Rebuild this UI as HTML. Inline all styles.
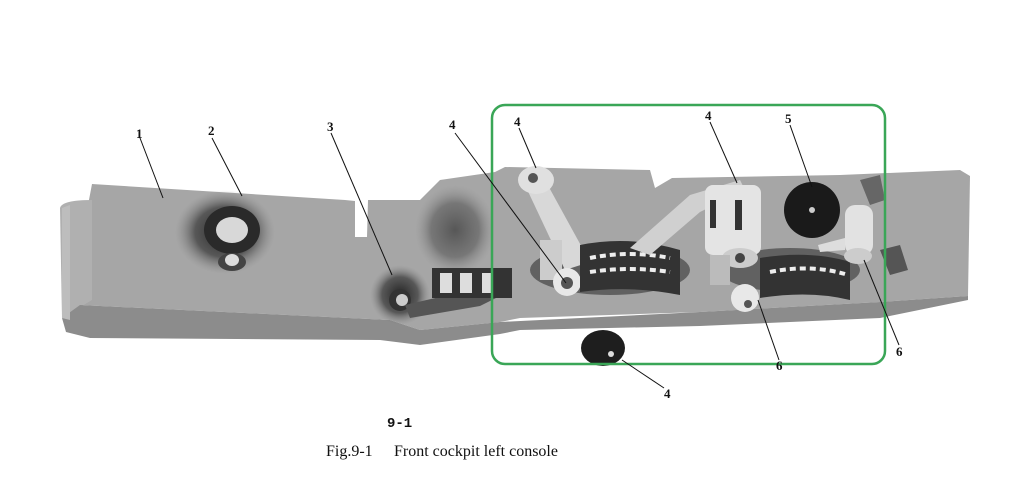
<!DOCTYPE html>
<html><head><meta charset="utf-8"><style>
html,body{margin:0;padding:0;background:#fff;}
svg{display:block}
</style></head><body>
<svg width="1013" height="496" viewBox="0 0 1013 496" xmlns="http://www.w3.org/2000/svg">
<defs>
<radialGradient id="dk" cx="50%" cy="50%" r="50%"><stop offset="0" stop-color="#222"/><stop offset="0.6" stop-color="#444" stop-opacity="0.8"/><stop offset="1" stop-color="#888" stop-opacity="0"/></radialGradient>
</defs>
<!-- main plate -->
<polygon fill="#a6a6a6" points="92,184 345,200 355,201 355,237 367,237 368,200 420,200 440,180 495,172 505,167 650,170 655,188 672,178 840,175 960,170 970,176 968,296 880,302 700,312 520,318 500,322 420,330 390,320 80,305 70,300"/>
<!-- left rounded end -->
<path d="M60,208 Q62,200 92,200 L92,300 L62,318 Z" fill="#b0b0b0"/>
<!-- front face -->
<polygon fill="#8c8c8c" points="62,318 80,305 390,320 420,330 500,322 700,312 880,302 968,296 968,300 880,318 700,326 520,330 500,334 420,345 380,340 90,338 66,332"/>
<polygon fill="#bdbdbd" points="62,208 70,205 70,320 62,318"/>
<!-- dark shading zones -->
<ellipse cx="225" cy="232" rx="50" ry="42" fill="url(#dk)"/>
<ellipse cx="400" cy="295" rx="30" ry="30" fill="url(#dk)"/>
<ellipse cx="455" cy="230" rx="40" ry="45" fill="url(#dk)" opacity="0.6"/>
<ellipse cx="610" cy="270" rx="80" ry="25" fill="#444" opacity="0.7"/>
<ellipse cx="790" cy="270" rx="70" ry="22" fill="#444" opacity="0.7"/>
<!-- knob 2 -->
<ellipse cx="232" cy="230" rx="28" ry="24" fill="#2a2a2a"/>
<ellipse cx="232" cy="230" rx="16" ry="13" fill="#d8d8d8"/>
<ellipse cx="232" cy="262" rx="14" ry="9" fill="#444"/>
<ellipse cx="232" cy="260" rx="7" ry="6" fill="#ddd"/>
<!-- knob 3 and slider -->
<circle cx="400" cy="300" r="11" fill="#333"/><circle cx="402" cy="300" r="6" fill="#ccc"/>
<polygon points="405,305 470,290 500,296 480,306 410,318" fill="#555"/>
<rect x="432" y="268" width="80" height="30" fill="#333"/>
<rect x="440" y="273" width="12" height="20" fill="#ddd"/><rect x="460" y="273" width="12" height="20" fill="#ddd"/><rect x="482" y="273" width="10" height="20" fill="#ddd"/>
<!-- lever 1 -->
<polygon points="525,185 545,180 590,262 565,270" fill="#d8d8d8"/>
<ellipse cx="536" cy="180" rx="18" ry="14" fill="#e0e0e0"/><circle cx="533" cy="178" r="5" fill="#555"/>
<rect x="540" y="240" width="22" height="40" fill="#ccc"/>
<circle cx="567" cy="282" r="14" fill="#e8e8e8"/><circle cx="567" cy="283" r="6" fill="#555"/>
<path d="M580,245 Q630,235 680,250 L680,295 Q630,285 580,292 Z" fill="#333"/>
<path d="M590,258 Q630,250 670,258" stroke="#eee" stroke-width="4" stroke-dasharray="6,4" fill="none"/>
<path d="M590,272 Q630,266 670,272" stroke="#eee" stroke-width="4" stroke-dasharray="6,4" fill="none"/>
<polygon points="630,248 690,195 740,180 745,190 700,212 650,255" fill="#d0d0d0"/>
<!-- throttle block -->
<rect x="705" y="185" width="56" height="70" rx="8" fill="#e4e4e4"/>
<rect x="710" y="200" width="6" height="28" fill="#333"/><rect x="735" y="200" width="7" height="30" fill="#333"/>
<ellipse cx="740" cy="258" rx="18" ry="10" fill="#ccc"/><circle cx="740" cy="258" r="5" fill="#444"/>
<rect x="710" y="255" width="20" height="30" fill="#bbb"/>
<circle cx="745" cy="298" r="14" fill="#e8e8e8"/><circle cx="748" cy="304" r="4" fill="#555"/>
<path d="M760,258 Q810,250 850,262 L850,300 Q810,290 760,298 Z" fill="#333"/>
<path d="M770,272 Q810,264 845,274" stroke="#eee" stroke-width="4" stroke-dasharray="6,4" fill="none"/>
<!-- gauge 5 -->
<circle cx="812" cy="210" r="28" fill="#1a1a1a"/>
<circle cx="812" cy="210" r="3" fill="#ccc"/>
<!-- item 6 right -->
<rect x="845" y="205" width="28" height="50" rx="10" fill="#e2e2e2"/>
<ellipse cx="858" cy="256" rx="14" ry="8" fill="#ccc"/>
<polygon points="818,245 845,238 845,250 820,252" fill="#ddd"/>
<polygon points="860,180 880,175 885,200 870,205" fill="#666"/>
<polygon points="880,250 900,245 908,270 890,275" fill="#555"/>
<!-- knob 4 bottom -->
<ellipse cx="603" cy="348" rx="22" ry="18" fill="#1e1e1e"/>
<circle cx="611" cy="354" r="3" fill="#ddd"/>
<!-- green box -->
<rect x="492" y="105" width="393" height="259" rx="13" fill="none" stroke="#3aa657" stroke-width="2.5"/>
<!-- leader lines -->
<g stroke="#111" stroke-width="1" fill="none">
<line x1="140" y1="138" x2="163" y2="198"/>
<line x1="212" y1="138" x2="242" y2="196"/>
<line x1="331" y1="133" x2="392" y2="275"/>
<line x1="455" y1="133" x2="566" y2="283"/>
<line x1="519" y1="128" x2="536" y2="168"/>
<line x1="710" y1="122" x2="737" y2="183"/>
<line x1="790" y1="125" x2="812" y2="187"/>
<line x1="864" y1="260" x2="899" y2="345"/>
<line x1="758" y1="300" x2="779" y2="360"/>
<line x1="622" y1="360" x2="664" y2="388"/>
</g>
<g font-family="Liberation Serif, serif" font-weight="bold" font-size="13" fill="#111">
<text x="136" y="138">1</text>
<text x="208" y="135">2</text>
<text x="327" y="131">3</text>
<text x="449" y="129">4</text>
<text x="514" y="126">4</text>
<text x="705" y="120">4</text>
<text x="785" y="123">5</text>
<text x="896" y="356">6</text>
<text x="776" y="370">6</text>
<text x="664" y="398">4</text>
</g>
<text x="387" y="427" font-family="Liberation Mono, monospace" font-weight="bold" font-size="14" fill="#111">9-1</text>
<text x="326" y="456" font-family="Liberation Serif, serif" font-size="16" fill="#111">Fig.9-1</text>
<text x="394" y="456" font-family="Liberation Serif, serif" font-size="16" fill="#111">Front cockpit left console</text>
</svg>
</body></html>
